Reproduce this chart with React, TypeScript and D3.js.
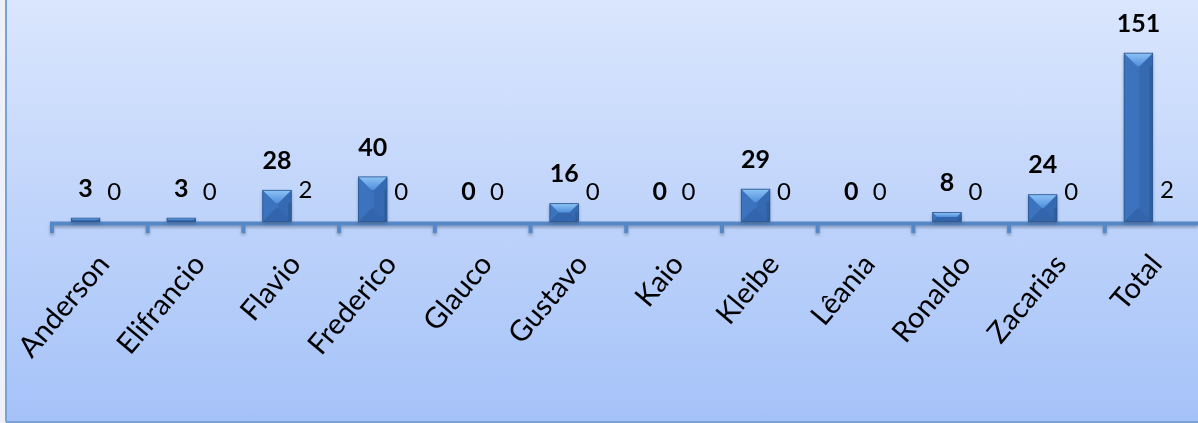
import React, { useRef, useEffect } from "react";
import * as d3 from "d3";

const categories = [
  "Anderson",
  "Elifrancio",
  "Flavio",
  "Frederico",
  "Glauco",
  "Gustavo",
  "Kaio",
  "Kleibe",
  "Lêania",
  "Ronaldo",
  "Zacarias",
  "Total",
];
const serieA = [3, 3, 28, 40, 0, 16, 0, 29, 0, 8, 24, 151];
const serieB = [0, 0, 2, 0, 0, 0, 0, 0, 0, 0, 0, 2];

const W = 1198;
const H = 423;
const FONT = "Lato, 'Open Sans', sans-serif";

const App = () => {
  const svgRef = useRef<SVGSVGElement>(null);

  useEffect(() => {
    const svg = d3.select(svgRef.current);
    svg.selectAll("*").remove();

    const defs = svg.append("defs");
    const bg = defs
      .append("linearGradient")
      .attr("id", "bg")
      .attr("x1", 0)
      .attr("y1", 0)
      .attr("x2", 0)
      .attr("y2", 1);
    bg.append("stop").attr("offset", "0%").attr("stop-color", "#dae6fd");
    bg.append("stop").attr("offset", "100%").attr("stop-color", "#a5c2f8");

    const topGrad = defs
      .append("linearGradient")
      .attr("id", "topgrad")
      .attr("x1", 0)
      .attr("y1", 0)
      .attr("x2", 0)
      .attr("y2", 1);
    topGrad.append("stop").attr("offset", "0%").attr("stop-color", "#8cc2f5");
    topGrad.append("stop").attr("offset", "100%").attr("stop-color", "#4f8fdb");

    const shadow = defs.append("filter").attr("id", "shadow").attr("height", "300%");
    shadow
      .append("feDropShadow")
      .attr("dx", 0)
      .attr("dy", 2)
      .attr("stdDeviation", 1.5)
      .attr("flood-color", "#3b4a66")
      .attr("flood-opacity", 0.45);

    // background + frame
    svg.append("rect").attr("width", W).attr("height", H).attr("fill", "#eef2f8");
    svg
      .append("rect")
      .attr("x", 7)
      .attr("y", 0)
      .attr("width", W - 7)
      .attr("height", 421)
      .attr("fill", "url(#bg)");
    svg.append("line").attr("x1", 6).attr("x2", 6).attr("y1", 0).attr("y2", 422)
      .attr("stroke", "#7ba2d6").attr("stroke-width", 2);
    svg.append("line").attr("x1", 6).attr("x2", W).attr("y1", 422).attr("y2", 422)
      .attr("stroke", "#7ba2d6").attr("stroke-width", 2);

    const x = d3.scaleBand<string>().domain(categories).range([52, 1200.5]).padding(0);
    const y = d3.scaleLinear().domain([0, 160]).range([221.5, 221.5 - 160 * 1.115]);

    const bw = x.bandwidth() * 0.298;
    const off = x.bandwidth() * 0.202;

    // axis
    const axis = svg.append("g").attr("filter", "url(#shadow)");
    axis
      .append("rect")
      .attr("x", 50)
      .attr("y", 221.5)
      .attr("width", W - 50)
      .attr("height", 4)
      .attr("fill", "#5687c6");
    axis
      .selectAll("rect.tick")
      .data(categories)
      .join("rect")
      .attr("class", "tick")
      .attr("x", (d) => (x(d) as number) - 2)
      .attr("y", 223)
      .attr("width", 4)
      .attr("height", 10)
      .attr("fill", "#5687c6");

    const pts = (p: number[][]) => p.map((q) => q.join(",")).join(" ");

    const drawBar = (g: any, bx: number, v: number, visible: boolean) => {
      const top = y(v);
      const h = y(0) - top;
      if (h <= 0) return;
      const bar = g.append("g").attr("opacity", visible ? 1 : 0);
      const b = Math.min(bw / 2, h / 2, 13);
      const r = bx + bw;
      const bot = y(0);
      bar.append("rect").attr("x", bx).attr("y", top).attr("width", bw).attr("height", h).attr("fill", "#3a72bb");
      bar.append("polygon")
        .attr("points", pts([[bx, top], [bx + b, top + b], [bx + b, bot - b], [bx, bot]]))
        .attr("fill", "#3a73be");
      bar.append("polygon")
        .attr("points", pts([[r, top], [r - b, top + b], [r - b, bot - b], [r, bot]]))
        .attr("fill", "#3569b1");
      bar.append("polygon")
        .attr("points", pts([[bx, bot], [bx + b, bot - b], [r - b, bot - b], [r, bot]]))
        .attr("fill", "#3365ab");
      bar.append("polygon")
        .attr("points", pts([[bx, top], [r, top], [r - b, top + b], [bx + b, top + b]]))
        .attr("fill", "url(#topgrad)");
      bar.append("rect").attr("x", r - 3).attr("y", top + b).attr("width", 3).attr("height", Math.max(0, h - b))
        .attr("fill", "#2a5791").attr("opacity", 0.6);
      bar.append("rect").attr("x", bx).attr("y", top).attr("width", bw).attr("height", h)
        .attr("fill", "none").attr("stroke", "#2a568f").attr("stroke-width", 0.8);
    };

    const bars = svg.append("g").attr("filter", "url(#shadow)");
    categories.forEach((c, i) => {
      const x0 = (x(c) as number) + off;
      drawBar(bars, x0, serieA[i], true);
      // second series has no visible fill in the original
      drawBar(bars, x0 + bw, serieB[i], false);
    });

    // labels
    const labels = svg.append("g").attr("font-family", FONT).attr("fill", "#000");
    categories.forEach((c, i) => {
      const x0 = (x(c) as number) + off;
      labels
        .append("text")
        .attr("x", x0 + bw / 2)
        .attr("y", y(serieA[i]) - 30)
        .attr("dy", "0.35em")
        .attr("text-anchor", "middle")
        .attr("font-weight", "bold")
        .attr("font-size", 25)
        .text(serieA[i]);
      labels
        .append("text")
        .attr("x", x0 + bw * 1.5)
        .attr("y", y(serieB[i]) - 30)
        .attr("dy", "0.35em")
        .attr("text-anchor", "middle")
        .attr("font-size", 24)
        .text(serieB[i]);
      const cx = (x(c) as number) + x.bandwidth() / 2;
      labels
        .append("text")
        .attr("transform", `translate(${cx + 11},${265}) rotate(-50)`)
        .attr("text-anchor", "end")
        .attr("font-size", 29)
        .text(c);
    });
  }, []);

  return (
    <svg
      ref={svgRef}
      width={W}
      height={H}
      style={{ position: "absolute", left: 0, top: 0 }}
    ></svg>
  );
};

export default App;
